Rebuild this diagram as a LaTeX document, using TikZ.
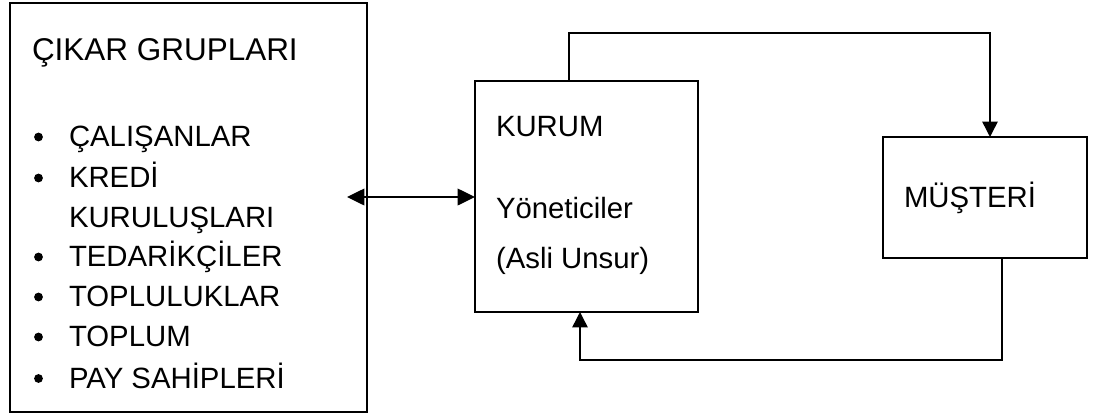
\documentclass[tikz,border=0pt]{standalone}
\usepackage{fontspec}
\setmainfont{Liberation Sans}
\usetikzlibrary{arrows.meta}
\tikzset{
  box/.style={draw=black, line width=1.5pt, fill=none, inner sep=0pt, outer sep=0pt},
  txt/.style={inner sep=0pt, outer sep=0pt, anchor=base west, font=\fontsize{22pt}{26pt}\selectfont},
  head/.style={txt, font=\fontsize{23.6pt}{28pt}\selectfont},
  dot/.style={circle, fill=black, inner sep=0pt, minimum size=6.6pt},
  link/.style={draw=black, line width=1.1pt, -{Triangle[length=11.5pt,width=11.5pt]}},
  twoway/.style={draw=black, line width=1.1pt, {Triangle[length=13pt,width=12.5pt]}-{Triangle[length=13pt,width=12.5pt]}}
}
\begin{document}
\begin{tikzpicture}[x=0.75pt,y=-0.75pt]
\useasboundingbox (0,0) rectangle (1093,415);

% boxes
\node[box, minimum width=267.75pt, minimum height=306.75pt] (cikar) at (188.5,207.5) {};
\node[box, minimum width=167.25pt, minimum height=173.25pt] (kurum) at (586.5,196.5) {};
\node[box, minimum width=153pt, minimum height=90.75pt] (musteri) at (985,197.5) {};

% stakeholder list
\node[head] (baslik) at (32,60) {ÇIKAR GRUPLARI};
\foreach \y/\t/\n in {146.5/ÇALIŞANLAR/1, 187.5/KREDİ/2, 266.5/TEDARİKÇİLER/3, 306.5/TOPLULUKLAR/4, 346.5/TOPLUM/5, 388/PAY SAHİPLERİ/6}{
  \node[dot] (bul\n) at (38.5,\y-9.5) {};
  \node[txt] (mad\n) at (69,\y) {\t};
}
\node[txt] (mad2b) at (69,227) {KURULUŞLARI};

% organisation
\node[txt] (kurumbaslik) at (496,136) {KURUM};
\node[txt] (yon) at (496,218) {Yöneticiler};
\node[txt] (asli) at (496,268) {(Asli Unsur)};

% customer
\node[txt] (musteriad) at (904,207) {MÜŞTERİ};

% connectors
\coordinate (t1) at (569,33);
\coordinate (t2) at (990,33);
\draw[link] (kurum.north -| t1) -- (t1) -- (t2) -- (musteri.north -| t2);

\coordinate (b1) at (1002,360);
\coordinate (b2) at (580,360);
\draw[link] (musteri.south -| b1) -- (b1) -- (b2) -- (kurum.south -| b2);

\coordinate (sol) at (347,197);
\draw[twoway] (sol) -- (kurum.west |- sol);
\end{tikzpicture}
\end{document}
